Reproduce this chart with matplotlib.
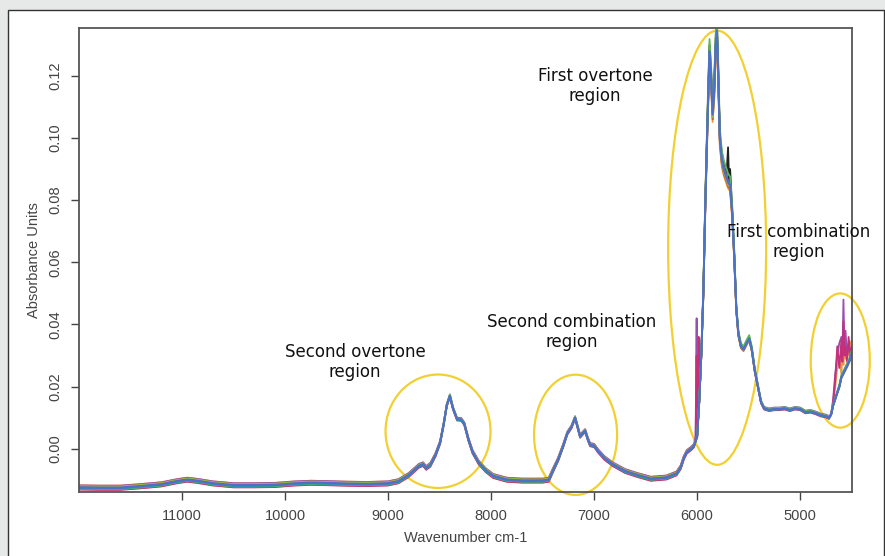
import matplotlib
matplotlib.use("Agg")
import matplotlib.pyplot as plt
from matplotlib.patches import Ellipse, Rectangle
import numpy as np

# mean spectrum (wavenumber cm-1, absorbance)
wavenumber = [12000, 11800, 11600, 11400, 11200, 11050, 10950, 10850, 10700, 10500,
              10300, 10100, 9900, 9750, 9600, 9400, 9200, 9000, 8900, 8800,
              8700, 8660, 8630, 8590, 8540, 8495, 8460, 8430, 8400, 8370,
              8330, 8290, 8260, 8220, 8180, 8120, 8050, 7980, 7850, 7700,
              7500, 7440, 7400, 7350, 7300, 7260, 7220, 7185, 7160, 7136,
              7110, 7087, 7060, 7039, 7000, 6960, 6900, 6820, 6700, 6580,
              6450, 6300, 6200, 6160, 6130, 6100, 6060, 6030, 6000, 5980,
              5960, 5940, 5920, 5900, 5880, 5865, 5850, 5835, 5820, 5808,
              5795, 5780, 5760, 5740, 5720, 5700, 5680, 5660, 5640, 5620,
              5600, 5575, 5550, 5520, 5495, 5470, 5440, 5410, 5380, 5350,
              5300, 5250, 5200, 5150, 5100, 5050, 5000, 4950, 4900, 4850,
              4800, 4750, 4720, 4700, 4680, 4650, 4620, 4600, 4570, 4540,
              4520, 4497]
absorbance = [-0.0125, -0.0126, -0.0126, -0.0121, -0.0115, -0.0105, -0.0100, -0.0104, -0.0112, -0.0118,
              -0.0118, -0.0117, -0.0112, -0.0110, -0.0111, -0.0113, -0.0114, -0.0112, -0.0105, -0.0085,
              -0.0055, -0.0050, -0.0062, -0.0052, -0.0020, 0.0020, 0.0080, 0.0140, 0.0170, 0.0130,
              0.0095, 0.0094, 0.0080, 0.0030, -0.0010, -0.0045, -0.0070, -0.0088, -0.0100, -0.0103,
              -0.0103, -0.0100, -0.0070, -0.0035, 0.0010, 0.0050, 0.0070, 0.0100, 0.0070, 0.0040,
              0.0050, 0.0058, 0.0030, 0.0013, 0.0010, -0.0008, -0.0030, -0.0050, -0.0072, -0.0085,
              -0.0097, -0.0093, -0.0080, -0.0060, -0.0030, -0.0010, 0.0000, 0.0010, 0.0040, 0.0150,
              0.0300, 0.0500, 0.0800, 0.1050, 0.1280, 0.1200, 0.1080, 0.1150, 0.1300, 0.1345,
              0.1200, 0.1000, 0.0930, 0.0900, 0.0880, 0.0860, 0.0850, 0.0760, 0.0620, 0.0450,
              0.0370, 0.0330, 0.0320, 0.0340, 0.0355, 0.0320, 0.0250, 0.0200, 0.0150, 0.0130,
              0.0125, 0.0128, 0.0128, 0.0130, 0.0125, 0.0130, 0.0128, 0.0118, 0.0120, 0.0115,
              0.0108, 0.0105, 0.0100, 0.0110, 0.0140, 0.0170, 0.0200, 0.0230, 0.0250, 0.0270,
              0.0285, 0.0310]

# sample-to-sample spread (scale, offset) and line colours
sample_scale = [0.97, 1.02, 1.015, 0.99, 1.01, 0.98, 1.03, 1.00, 0.985, 0.995, 1.0]
sample_offset = [0.0004, -0.0003, -0.0001, 0.0006, -0.0005, 0.0002, 0.0000, -0.0002, 0.0003, 0.0001, 0.0]
sample_color = ["#e89a3c", "#d6c23a", "#222222", "#9a4fb0", "#c4307a", "#e04a3a",
                "#5bb55a", "#20a39e", "#8fbf3a", "#6a5acd", "#4a72c9"]

# noisy ends of some samples near 4600 cm-1 and near 6000 cm-1
tail_wn = [4700, 4680, 4660, 4640, 4620, 4600, 4590, 4580, 4570, 4560, 4545, 4530, 4515, 4497]
tail_purple = [0.011, 0.016, 0.024, 0.030, 0.034, 0.036, 0.030, 0.048, 0.032, 0.038, 0.030, 0.034, 0.030, 0.032]
tail_magenta = [0.011, 0.015, 0.022, 0.033, 0.026, 0.035, 0.028, 0.041, 0.030, 0.033, 0.028, 0.036, 0.031, 0.033]
tail_orange = [0.011, 0.014, 0.020, 0.026, 0.030, 0.024, 0.031, 0.027, 0.033, 0.029, 0.032, 0.030, 0.034, 0.035]
edge_wn = [6015, 6005, 5995, 5985]
edge_purple = [0.004, 0.042, 0.010, 0.030]
edge_magenta = [0.003, 0.030, 0.008, 0.036]
black_wn = [5715, 5700, 5690, 5680]
black_vals = [0.088, 0.097, 0.086, 0.090]

regions = ["Second overtone\nregion", "Second combination\nregion",
           "First overtone\nregion", "First combination\nregion"]

fig = plt.figure(figsize=(8.85, 5.56), dpi=100)
fig.patch.set_facecolor("#e7e8e8")
panel = Rectangle((8 / 885, -0.05), 0.99, (546 / 556) + 0.05, transform=fig.transFigure,
                  facecolor="white", edgecolor="#333333", linewidth=1.0, zorder=-10)
fig.patches.append(panel)
ax = fig.add_axes([79 / 885, 64 / 556, 773 / 885, 464 / 556])
ax.set_facecolor("white")

wn = np.array(wavenumber, dtype=float)
ab = np.array(absorbance)


def merge(x, y, extra_x, extra_y, cut=None):
    x = list(x)
    y = list(y)
    if cut is not None:
        keep = [i for i in range(len(x)) if not (cut[1] <= x[i] <= cut[0])]
        x = [x[i] for i in keep]
        y = [y[i] for i in keep]
    x = x + list(extra_x)
    y = y + list(extra_y)
    order = np.argsort(x)[::-1]
    return np.array(x)[order], np.array(y)[order]


for i in range(len(sample_scale)):
    x = wn
    y = ab * sample_scale[i] + sample_offset[i]
    c = sample_color[i]
    if c == "#9a4fb0":
        x, y = merge(x, y, tail_wn, tail_purple, cut=(4700, 4497))
        x, y = merge(x, y, edge_wn, edge_purple)
    elif c == "#c4307a":
        x, y = merge(x, y, tail_wn, tail_magenta, cut=(4700, 4497))
        x, y = merge(x, y, edge_wn, edge_magenta)
    elif c == "#e89a3c":
        x, y = merge(x, y, tail_wn, tail_orange, cut=(4700, 4497))
    elif c == "#222222":
        x, y = merge(x, y, black_wn, black_vals, cut=(5720, 5680))
    ax.plot(x, y, color=c, linewidth=1.3, solid_joinstyle="round")

ax.set_xlim(12000, 4497)
ax.set_ylim(-0.0139, 0.1354)
ax.set_xticks([11000, 10000, 9000, 8000, 7000, 6000, 5000])
ax.set_yticks([0.00, 0.02, 0.04, 0.06, 0.08, 0.10, 0.12])
ax.set_yticklabels(["0.00", "0.02", "0.04", "0.06", "0.08", "0.10", "0.12"], rotation=90, va="center")
ax.tick_params(direction="out", length=6, width=1, color="#444444", labelcolor="#444444",
               labelsize=10.5, pad=6)
for lab in ax.get_xticklabels() + ax.get_yticklabels():
    lab.set_family(["Liberation Sans", "DejaVu Sans"])
for s in ax.spines.values():
    s.set_color("#555555")
    s.set_linewidth(1.3)
ax.set_xlabel("Wavenumber cm-1", fontsize=10.5, color="#444444", family=["Liberation Sans", "DejaVu Sans"],
              labelpad=6)
ax.set_ylabel("Absorbance Units", fontsize=10.5, color="#444444", family=["Liberation Sans", "DejaVu Sans"],
              labelpad=5)

# yellow ellipses around the regions
ell = [(8515, 0.00565, 1019, 0.0365), (7180, 0.0045, 806, 0.0387),
       (5806, 0.0647, 951, 0.1397), (4611, 0.0284, 573, 0.0432)]
for cx, cy, w, h in ell:
    ax.add_patch(Ellipse((cx, cy), w, h, fill=False, edgecolor="#f2d031", linewidth=1.6, clip_on=False))

label_pos = [(355 / 885, 1 - 362 / 556), (572 / 885, 1 - 332 / 556),
             (595 / 885, 1 - 86 / 556), (799 / 885, 1 - 242 / 556)]
for txt, (px, py) in zip(regions, label_pos):
    fig.text(px, py, txt, ha="center", va="center", fontsize=12, color="#111111",
             family=["DejaVu Sans"], linespacing=1.2)

fig.savefig("out.png", dpi=100, facecolor=fig.get_facecolor())
